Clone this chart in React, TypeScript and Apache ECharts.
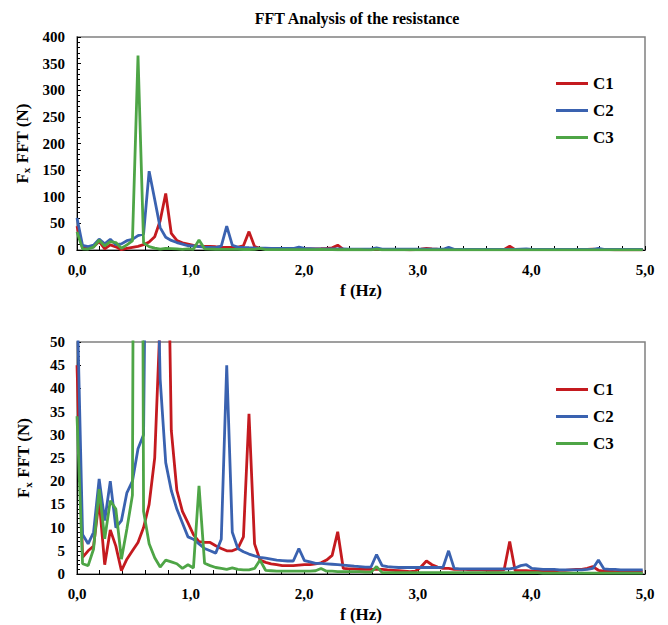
import React, { useEffect, useRef } from "react";
import * as echarts from "echarts";

// Frequency bins (Hz)
const freq = [
  0, 0.049, 0.098, 0.146, 0.195, 0.244, 0.293, 0.342, 0.391, 0.439,
  0.488, 0.537, 0.586, 0.635, 0.684, 0.732, 0.781, 0.83, 0.879, 0.928,
  0.977, 1.025, 1.074, 1.123, 1.172, 1.221, 1.27, 1.318, 1.367, 1.416,
  1.465, 1.514, 1.563, 1.611, 1.66, 1.709, 1.758, 1.807, 1.855, 1.904,
  1.953, 2.002, 2.051, 2.1, 2.148, 2.197, 2.246, 2.295, 2.344, 2.393,
  2.441, 2.49, 2.539, 2.588, 2.637, 2.686, 2.734, 2.783, 2.832, 2.881,
  2.93, 2.979, 3.027, 3.076, 3.125, 3.174, 3.223, 3.271, 3.32, 3.369,
  3.418, 3.467, 3.516, 3.564, 3.613, 3.662, 3.711, 3.76, 3.809, 3.857,
  3.906, 3.955, 4.004, 4.053, 4.102, 4.15, 4.199, 4.248, 4.297, 4.346,
  4.395, 4.443, 4.492, 4.541, 4.59, 4.639, 4.688, 4.736, 4.785, 4.834,
  4.883, 4.932, 4.98,
];

const c1 = [
  45, 3.6, 5, 6, 16, 2, 9.5, 6, 0.7, 3.2,
  5, 6.8, 10, 15, 25, 55, 106, 31, 18, 13.5,
  11, 8.5, 7, 6.8, 6.8, 6.1, 5.5, 5, 5, 5.5,
  8, 34.5, 6.5, 3, 2.5, 2.2, 2, 1.8, 1.8, 1.8,
  1.9, 2, 2, 2.2, 2.4, 3, 4, 9.1, 1.2, 1.1,
  1.1, 1, 1, 1, 1, 1, 0.9, 0.8, 0.7, 0.6,
  0.5, 0.6, 1.5, 2.8, 2, 1.5, 1.2, 1.2, 1, 1,
  1, 0.9, 0.9, 0.9, 0.8, 0.8, 0.8, 0.9, 7, 0.7,
  0.7, 0.7, 0.6, 0.6, 0.6, 0.7, 0.7, 0.8, 0.8, 0.9,
  1, 1, 1.2, 1.6, 0.8, 0.6, 0.6, 0.5, 0.5, 0.5,
  0.5, 0.5, 0.5,
];

const c2 = [
  60, 8.5, 6.5, 9, 20.5, 11.5, 20, 10, 11.5, 17.5,
  20, 27, 30, 148, 95, 42, 24, 18, 14, 11,
  8, 7.5, 6.5, 5.5, 5, 4.5, 7.5, 45, 9, 5.5,
  4.8, 4.3, 3.9, 3.6, 3.4, 3.2, 3, 2.9, 2.8, 2.8,
  5.5, 2.9, 2.6, 2.3, 2.3, 2.2, 2.1, 2, 1.9, 1.8,
  1.7, 1.6, 1.5, 1.5, 4.2, 1.8, 1.6, 1.5, 1.4, 1.4,
  1.4, 1.4, 1.4, 1.4, 1.4, 1.4, 1.5, 5, 1.2, 1.1,
  1.1, 1.1, 1.1, 1.1, 1.1, 1.1, 1.1, 1.1, 1.1, 1.3,
  1.8, 2, 1.2, 1.1, 1, 1, 1, 0.9, 0.9, 0.9,
  0.9, 0.9, 1, 1.2, 3, 1.1, 1, 1, 0.9, 0.9,
  0.9, 0.9, 0.9,
];

const c3 = [
  34, 2.2, 1.8, 5.4, 18.3, 7.6, 15.8, 14, 3.2, 9.7,
  17, 365, 13.5, 6.5, 3.5, 1.5, 3, 2.6, 2.2, 1.2,
  2, 1.3, 19, 2.3, 1.8, 1.4, 1.2, 1, 1.3, 1,
  0.9, 0.9, 1.2, 3, 0.8, 0.7, 0.6, 0.6, 0.6, 0.6,
  0.6, 0.6, 0.6, 0.7, 1.2, 0.6, 0.6, 0.5, 0.5, 0.5,
  0.5, 0.5, 0.4, 0.4, 1.6, 0.3, 0.3, 0.3, 0.3, 0.3,
  0.3, 0.3, 0.3, 0.3, 0.3, 0.3, 0.3, 0.3, 0.3, 0.3,
  0.3, 0.3, 0.3, 0.3, 0.3, 0.3, 0.3, 0.3, 0.3, 0.3,
  0.3, 0.3, 0.3, 0.3, 0.2, 0.2, 0.2, 0.2, 0.2, 0.2,
  0.2, 0.2, 0.2, 0.2, 0.2, 0.2, 0.2, 0.2, 0.2, 0.2,
  0.2, 0.2, 0.2,
];

const seriesNames = ["C1", "C2", "C3"];
const seriesData = [c1, c2, c3];
const colors = ["#C41A1F", "#3A62B0", "#4EA546"];

const titleText = "FFT Analysis of the resistance";
const xName = "f (Hz)";

const FONT = "'Liberation Serif', 'Times New Roman', serif";

export default function App() {
  const ref = useRef<HTMLDivElement>(null);

  useEffect(() => {
    if (!ref.current) return;
    const chart = echarts.init(ref.current, null, { renderer: "svg" });

    const labelStyle = {
      fontFamily: FONT,
      fontWeight: "bold" as const,
      fontSize: 15,
      color: "#000",
    };

    const makeX = (gridIndex: number) => ({
      type: "value" as const,
      gridIndex,
      min: 0,
      max: 5,
      interval: 1,
      name: xName,
      nameLocation: "middle" as const,
      nameGap: 32,
      nameTextStyle: { fontFamily: FONT, fontWeight: "bold", fontSize: 17, color: "#000" },
      axisLine: { show: true, onZero: false, lineStyle: { color: "#000", width: 1 } },
      axisTick: { show: true, inside: true, length: 4, lineStyle: { color: "#000" } },
      minorTick: { show: true, splitNumber: 5, length: 4, lineStyle: { color: "#000" } },
      splitLine: { show: false },
      axisLabel: {
        ...labelStyle,
        margin: 12,
        formatter: (v: number) => v.toFixed(1).replace(".", ","),
      },
    });

    const makeY = (gridIndex: number, max: number, interval: number) => ({
      type: "value" as const,
      gridIndex,
      min: 0,
      max,
      interval,
      name: "{a|F}{b|x}{a| FFT (N)}",
      nameLocation: "middle" as const,
      nameGap: 44,
      nameTextStyle: {
        rich: {
          a: { fontFamily: FONT, fontWeight: "bold", fontSize: 17, color: "#000" },
          b: { fontFamily: FONT, fontWeight: "bold", fontSize: 11, color: "#000", verticalAlign: "bottom", padding: [8, 0, 0, 0] },
        },
      },
      axisLine: { show: true, lineStyle: { color: "#000", width: 1 } },
      axisTick: { show: true, inside: true, length: 4, lineStyle: { color: "#000" } },
      minorTick: { show: true, splitNumber: 5, length: 3, lineStyle: { color: "#000" } },
      splitLine: { show: false },
      axisLabel: { ...labelStyle, margin: 12 },
    });

    const series: any[] = [];
    [0, 1].forEach((g) => {
      seriesNames.forEach((name, i) => {
        series.push({
          name,
          type: "line",
          xAxisIndex: g,
          yAxisIndex: g,
          data: freq.map((f, k) => [f, seriesData[i][k]]),
          symbol: "none",
          showSymbol: false,
          clip: true,
          lineStyle: { color: colors[i], width: 2.8 },
          itemStyle: { color: colors[i] },
          z: 2 + i,
        });
      });
    });

    const legendBase = {
      orient: "vertical" as const,
      left: 551,
      icon: "rect",
      itemWidth: 32,
      itemHeight: 3,
      itemGap: 10,
      data: seriesNames,
      selectedMode: false,
      textStyle: { fontFamily: FONT, fontWeight: "bold", fontSize: 17, color: "#000" },
    };

    chart.setOption({
      animation: false,
      backgroundColor: "#fff",
      title: {
        text: titleText,
        left: 352,
        textAlign: "center",
        top: 5,
        textStyle: { fontFamily: FONT, fontWeight: "bold", fontSize: 16, color: "#000" },
      },
      legend: [
        { ...legendBase, top: 70 },
        { ...legendBase, top: 376 },
      ],
      grid: [
        { left: 77, top: 37, width: 568, height: 213, show: true, borderColor: "#808080", borderWidth: 1.5, containLabel: false },
        { left: 77, top: 342, width: 568, height: 232, show: true, borderColor: "#808080", borderWidth: 1.5, containLabel: false },
      ],
      xAxis: [makeX(0), makeX(1)],
      yAxis: [makeY(0, 400, 50), makeY(1, 50, 5)],
      series,
    });

    return () => chart.dispose();
  }, []);

  return (
    <div
      ref={ref}
      style={{ position: "absolute", left: 0, top: 0, width: 668, height: 625, background: "#fff" }}
    />
  );
}
